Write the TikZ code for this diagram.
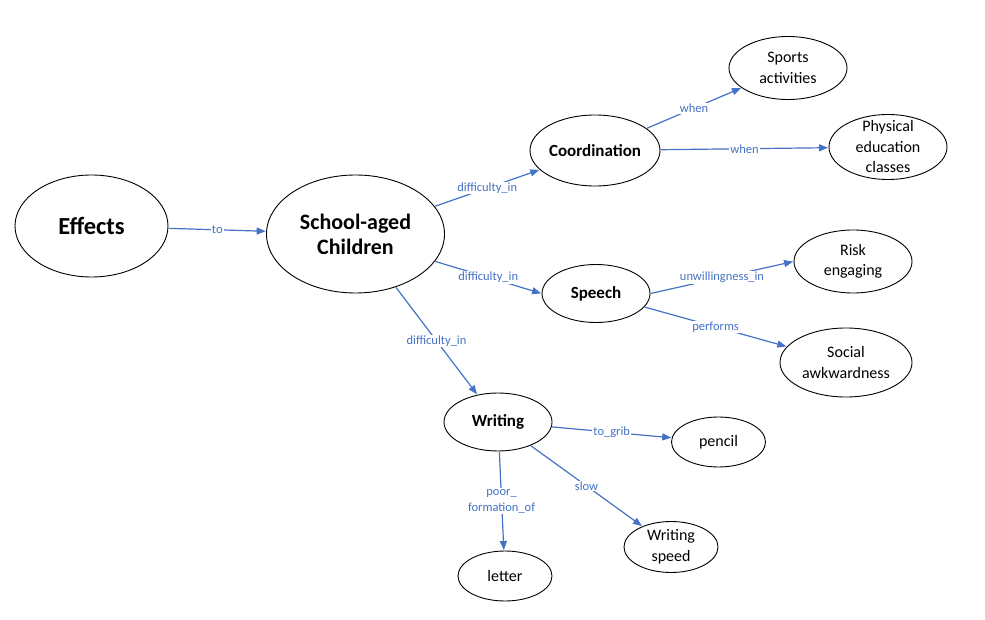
\documentclass[tikz,border=0pt]{standalone}
\usepackage{fontspec}
\setmainfont{Carlito}
\usetikzlibrary{shapes.geometric,arrows.meta}
\definecolor{lnk}{HTML}{4472C4}
\begin{document}
\begin{tikzpicture}[x=1pt,y=-1pt,
  ell/.style 2 args={ellipse, draw=black, line width=0.9pt, inner sep=0pt, minimum width=#1, minimum height=#2},
  tx/.style={align=center, inner sep=0pt, font=\fontsize{16}{20.5}\selectfont},
  txb/.style={align=center, inner sep=0pt, font=\fontsize{17}{21}\selectfont\bfseries},
  arr/.style={draw=lnk, line width=1.2pt, -{Triangle[length=9pt,width=7pt]}, shorten >=0.5pt, shorten <=0.5pt},
  lab/.style={fill=white, inner sep=1pt, text=lnk, align=center, font=\fontsize{12.5}{16}\selectfont}]
\useasboundingbox (0,0) rectangle (985,620);

\node[ell={153}{102}] (eff) at (91.5,226) {};
\node[align=center, font=\fontsize{24.5}{28}\selectfont\bfseries] (efft) at (eff) {Effects};
\node[ell={178}{118}] (sch) at (355.5,234) {};
\node[align=center, font=\fontsize{22}{25}\selectfont\bfseries] (scht) at (sch) {School-aged\\Children};

\node[ell={130}{71}] (coo) at (595,150.5) {};
\node[txb] (coot) at (coo) {Coordination};
\node[ell={108}{58}] (spe) at (596,293.5) {};
\node[txb] (spet) at (spe) {Speech};
\node[ell={108}{58}] (wri) at (498,422) {};
\node[txb] (writ) at (wri) {Writing};

\node[ell={118}{63}] (spo) at (788,68) {};
\node[tx] (spot) at (spo) {Sports\\activities};
\node[ell={118}{65}] (phy) at (888,147) {};
\node[tx] (phyt) at (phy) {Physical\\education\\classes};
\node[ell={118}{63}] (ris) at (853,261.5) {};
\node[tx] (rist) at (ris) {Risk\\engaging};
\node[ell={132}{69}] (soc) at (846,362.5) {};
\node[tx] (soct) at (soc) {Social\\awkwardness};
\node[ell={94}{50}] (pen) at (718.5,442) {};
\node[tx] (pent) at (pen) {pencil};
\node[ell={94}{51}] (wsp) at (671,547) {};
\node[tx] (wspt) at (wsp) {Writing\\speed};
\node[ell={94}{50}] (let) at (505,576) {};
\node[tx] (lett) at (let) {letter};

\draw[arr] (eff) -- node[lab] (l1) {to} (sch);
\draw[arr] (sch) -- node[lab] (l2) {difficulty\_in} (coo);
\draw[arr] (sch.-19) -- node[lab] (l3) {difficulty\_in} (spe.west);
\draw[arr] (sch) -- node[lab] (l4) {difficulty\_in} (wri);
\draw[arr] (coo) -- node[lab] (l5) {when} (spo);
\draw[arr] (coo) -- node[lab] (l6) {when} (phy);
\draw[arr] (spe.east) -- node[lab] (l7) {unwillingness\_in} (ris.west);
\draw[arr] (spe) -- node[lab] (l8) {performs} (soc.165);
\draw[arr] (wri) -- node[lab] (l9) {to\_grib} (pen);
\draw[arr] (wri) -- node[lab] (l10) {slow} (wsp);
\draw[arr] (wri) -- node[lab] (l11) {poor\_\\formation\_of} (let);
\end{tikzpicture}
\end{document}
